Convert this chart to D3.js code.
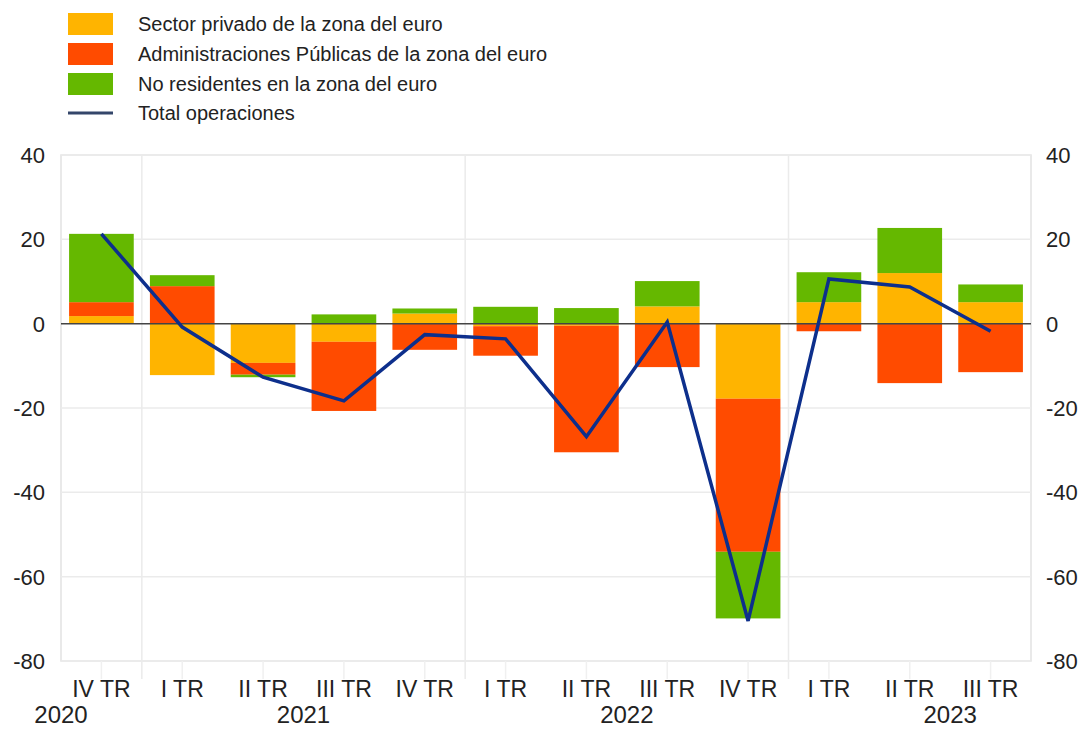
<!DOCTYPE html>
<html>
<head>
<meta charset="utf-8">
<script src="https://cdn.jsdelivr.net/npm/d3@7"></script>
<style>
  html, body { margin: 0; padding: 0; background: #fff; }
  svg text { font-family: "Liberation Sans", Arial, sans-serif; fill: #222; }
</style>
</head>
<body>
<svg id="chart" width="1084" height="729"></svg>
<script>
var quarters = ['IV TR', 'I TR', 'II TR', 'III TR', 'IV TR', 'I TR', 'II TR', 'III TR', 'IV TR', 'I TR', 'II TR', 'III TR'];
var years = ['2020', '2021', '2021', '2021', '2021', '2022', '2022', '2022', '2022', '2023', '2023', '2023'];
var yTicks = [40, 20, 0, -20, -40, -60, -80];

var privado = [1.8, -12.2, -9.3, -4.3, 2.4, -0.6, -0.5, 4.1, -17.8, 5.1, 12.0, 5.1];
var publicas = [3.3, 8.9, -2.8, -16.4, -6.2, -7.0, -30.0, -10.3, -36.3, -1.8, -14.1, -11.5];
var noResidentes = [16.2, 2.6, -0.6, 2.2, 1.2, 4.0, 3.7, 6.0, -15.8, 7.1, 10.7, 4.2];
var total = [21.3, -0.8, -12.7, -18.3, -2.6, -3.6, -26.8, 0.4, -70.5, 10.6, 8.7, -1.8];

var seriesNames = ['Sector privado de la zona del euro', 'Administraciones Públicas de la zona del euro', 'No residentes en la zona del euro'];
var lineName = 'Total operaciones';
var colors = ['#ffb400', '#ff4b00', '#65b800'];
var lineColor = '#0d2f8c';

var plotLeft = 61, plotRight = 1031, plotTop = 155, plotBottom = 661;

var svg = d3.select('#chart');

var rows = quarters.map(function(q, i) {
    return { i: i, k0: privado[i], k1: publicas[i], k2: noResidentes[i] };
});

var x = d3.scaleBand()
    .domain(d3.range(quarters.length))
    .range([plotLeft, plotRight])
    .paddingInner(0.2)
    .paddingOuter(0.1);

var y = d3.scaleLinear()
    .domain([-80, 40])
    .range([plotBottom, plotTop]);

var cx = function(i) { return x(i) + x.bandwidth() / 2; };

// plot frame + grid
svg.append('rect')
    .attr('x', plotLeft).attr('y', plotTop)
    .attr('width', plotRight - plotLeft).attr('height', plotBottom - plotTop)
    .attr('fill', 'none').attr('stroke', '#e2e2e2').attr('stroke-width', 1.5);

svg.append('g').selectAll('line')
    .data(yTicks.filter(function(d) { return d !== 0; }))
    .enter().append('line')
    .attr('x1', plotLeft).attr('x2', plotRight)
    .attr('y1', function(d) { return y(d); })
    .attr('y2', function(d) { return y(d); })
    .attr('stroke', '#ebebeb').attr('stroke-width', 1.5);

// year separators
var yearStarts = d3.range(1, quarters.length).filter(function(i) { return years[i] !== years[i - 1]; });
svg.append('g').selectAll('line')
    .data(yearStarts)
    .enter().append('line')
    .attr('x1', function(i) { return x(i) - x.step() * x.paddingInner() / 2; })
    .attr('x2', function(i) { return x(i) - x.step() * x.paddingInner() / 2; })
    .attr('y1', plotTop).attr('y2', plotBottom + 18)
    .attr('stroke', '#ebebeb').attr('stroke-width', 1.5);

// small ticks under each quarter
svg.append('g').selectAll('line')
    .data(d3.range(quarters.length))
    .enter().append('line')
    .attr('x1', cx).attr('x2', cx)
    .attr('y1', plotBottom).attr('y2', plotBottom + 18)
    .attr('stroke', '#f0f0f0').attr('stroke-width', 1.5);

// stacked bars
var stack = d3.stack()
    .keys(['k0', 'k1', 'k2'])
    .offset(d3.stackOffsetDiverging);

var layers = stack(rows);

svg.append('g').selectAll('g')
    .data(layers)
    .enter().append('g')
    .attr('fill', function(d, i) { return colors[i]; })
    .selectAll('rect')
    .data(function(d) { return d; })
    .enter().append('rect')
    .attr('x', function(d) { return x(d.data.i); })
    .attr('width', x.bandwidth())
    .attr('y', function(d) { return y(Math.max(d[0], d[1])); })
    .attr('height', function(d) { return Math.abs(y(d[0]) - y(d[1])); });

// zero line
svg.append('line')
    .attr('x1', plotLeft).attr('x2', plotRight)
    .attr('y1', y(0)).attr('y2', y(0))
    .attr('stroke', '#444').attr('stroke-width', 1.5);

// total line
var line = d3.line()
    .x(function(d, i) { return cx(i); })
    .y(function(d) { return y(d); });

svg.append('path')
    .datum(total)
    .attr('d', line)
    .attr('fill', 'none')
    .attr('stroke', lineColor)
    .attr('stroke-width', 3.5)
    .attr('stroke-linejoin', 'miter');

// y axis labels both sides
var yl = svg.append('g').attr('font-size', 22);
yl.selectAll('text.l')
    .data(yTicks)
    .enter().append('text')
    .attr('class', 'l')
    .attr('x', plotLeft - 16)
    .attr('y', function(d) { return y(d); })
    .attr('dy', '0.36em')
    .attr('text-anchor', 'end')
    .text(function(d) { return d; });
yl.selectAll('text.r')
    .data(yTicks)
    .enter().append('text')
    .attr('class', 'r')
    .attr('x', plotRight + 15)
    .attr('y', function(d) { return y(d); })
    .attr('dy', '0.36em')
    .attr('text-anchor', 'start')
    .text(function(d) { return d; });

// x axis labels
svg.append('g').selectAll('text')
    .data(quarters)
    .enter().append('text')
    .attr('x', function(d, i) { return cx(i); })
    .attr('y', 697)
    .attr('text-anchor', 'middle')
    .attr('font-size', 23)
    .text(function(d) { return d; });

var yearGroups = d3.groups(d3.range(quarters.length), function(i) { return years[i]; });
svg.append('g').selectAll('text')
    .data(yearGroups)
    .enter().append('text')
    .attr('x', function(g) {
        // centre on the four quarters of the year, kept inside the plot
        var idx = g[1];
        var q = quarters[idx[0]].split(' ')[0];
        var qn = ['I', 'II', 'III', 'IV'].indexOf(q);
        var mid = cx(idx[0]) + (1.5 - qn) * x.step();
        return Math.max(mid, plotLeft);
    })
    .attr('y', 723)
    .attr('text-anchor', 'middle')
    .attr('font-size', 24)
    .text(function(g) { return g[0]; });

// legend
var legend = svg.append('g');
seriesNames.forEach(function(name, i) {
    legend.append('rect')
        .attr('x', 68).attr('y', 13 + i * 30)
        .attr('width', 45).attr('height', 22)
        .attr('fill', colors[i]);
    legend.append('text')
        .attr('x', 138).attr('y', 24 + i * 30)
        .attr('dy', '0.36em')
        .attr('font-size', 20)
        .text(name);
});
legend.append('line')
    .attr('x1', 68).attr('x2', 113)
    .attr('y1', 113).attr('y2', 113)
    .attr('stroke', '#34466a').attr('stroke-width', 3);
legend.append('text')
    .attr('x', 138).attr('y', 113)
    .attr('dy', '0.36em')
    .attr('font-size', 20)
    .text(lineName);
</script>
</body>
</html>
